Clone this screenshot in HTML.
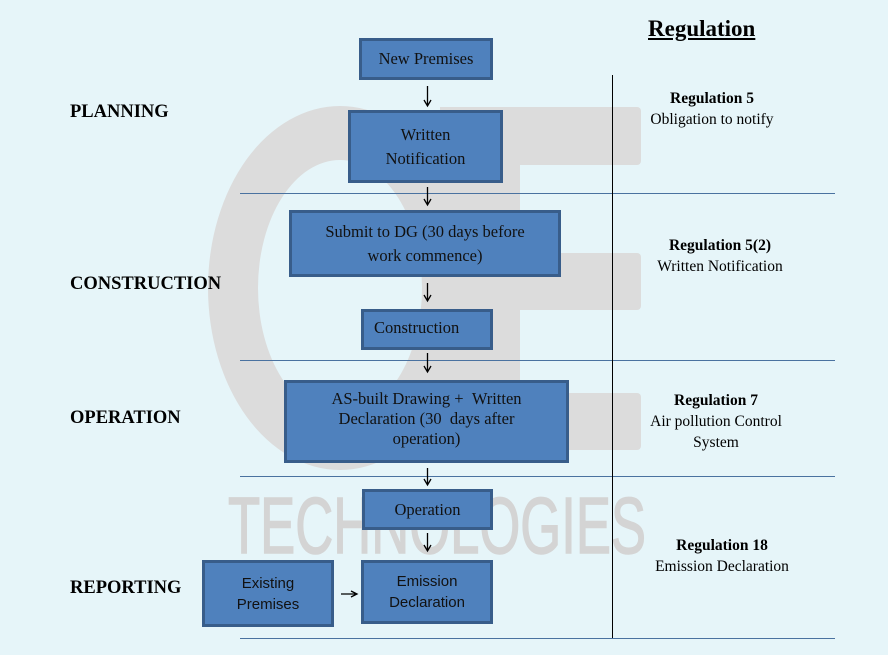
<!DOCTYPE html>
<html><head><meta charset="utf-8"><style>
body{margin:0;width:888px;height:655px;overflow:hidden;background:#e6f5f9;position:relative;font-family:"Liberation Serif",serif;}
.b{position:absolute;box-sizing:border-box;background:#4f81bd;border:3px solid #385d8a;color:#111;display:flex;align-items:center;justify-content:center;text-align:center;font-size:16.5px;line-height:24px;}
.sans{font-family:"Liberation Sans",sans-serif;font-size:15px;line-height:21px;}
.l{position:absolute;font-weight:bold;font-size:18.5px;}
.r{position:absolute;text-align:center;font-size:15.5px;line-height:21px;width:180px;}
</style></head><body>
<svg width="888" height="655" style="position:absolute;left:0;top:0">
<path fill="#dcdcdc" fill-rule="evenodd" d="M340 106 A132 182 0 1 0 340 470 A132 182 0 1 0 340 106 Z M340 160 A82 128 0 1 1 340 416 A82 128 0 1 1 340 160 Z"/>
<rect x="440" y="107" width="80" height="343" fill="#dcdcdc"/>
<rect x="440" y="107" width="201" height="58" rx="4" fill="#dcdcdc"/>
<rect x="440" y="253" width="201" height="57" rx="4" fill="#dcdcdc"/>
<rect x="440" y="393" width="201" height="57" rx="4" fill="#dcdcdc"/>
<text x="228" y="553" font-family="Liberation Sans,sans-serif" font-size="80" fill="#d4d4d4" stroke="#d4d4d4" stroke-width="1.5" textLength="418" lengthAdjust="spacingAndGlyphs">TECHNOLOGIES</text>
<g stroke="#4a72a0" stroke-width="1"><line x1="240" y1="193.5" x2="835" y2="193.5"/><line x1="240" y1="360.5" x2="835" y2="360.5"/><line x1="240" y1="476.5" x2="835" y2="476.5"/><line x1="240" y1="638.5" x2="835" y2="638.5"/></g>
<line x1="612.5" y1="75" x2="612.5" y2="638" stroke="#000"/>
<g stroke="#000" stroke-width="1.3" fill="none">
<path d="M427.5 86V105M424 100l3.5 6 3.5-6"/>
<path d="M427.5 187V205M424 199l3.5 6 3.5-6"/>
<path d="M427.5 283V301M424 295l3.5 6 3.5-6"/>
<path d="M427.5 353V372M424 366l3.5 6 3.5-6"/>
<path d="M427.5 468V485M424 479l3.5 6 3.5-6"/>
<path d="M427.5 533V551M424 545l3.5 6 3.5-6"/>
<path d="M341 594H356M351 591l6 3-6 3"/>
</g>
</svg>
<div class="b" style="left:359px;top:38px;width:134px;height:42px">New Premises</div>
<div class="b" style="left:348px;top:110px;width:155px;height:73px">Written<br>Notification</div>
<div class="b" style="left:289px;top:210px;width:272px;height:67px">Submit to DG (30 days before<br>work commence)</div>
<div class="b" style="left:361px;top:309px;width:132px;height:41px;justify-content:flex-start;padding-left:10px;padding-bottom:4px">Construction</div>
<div class="b" style="left:284px;top:380px;width:285px;height:83px;line-height:20px;padding-bottom:6px">AS-built Drawing + &nbsp;Written<br>Declaration (30 &nbsp;days after<br>operation)</div>
<div class="b" style="left:362px;top:489px;width:131px;height:41px">Operation</div>
<div class="b sans" style="left:202px;top:560px;width:132px;height:67px">Existing<br>Premises</div>
<div class="b sans" style="left:361px;top:560px;width:132px;height:64px">Emission<br>Declaration</div>
<div class="l" style="left:70px;top:102px">PLANNING</div>
<div class="l" style="left:70px;top:274px">CONSTRUCTION</div>
<div class="l" style="left:70px;top:408px">OPERATION</div>
<div class="l" style="left:70px;top:578px">REPORTING</div>
<div style="position:absolute;left:648px;top:16px;font-weight:bold;font-size:23px;text-decoration:underline">Regulation</div>
<div class="r" style="left:622px;top:88px"><b>Regulation 5</b><br>Obligation to notify</div>
<div class="r" style="left:630px;top:235px"><b>Regulation 5(2)</b><br>Written Notification</div>
<div class="r" style="left:626px;top:390px"><b>Regulation 7</b><br>Air pollution Control<br>System</div>
<div class="r" style="left:632px;top:535px"><b>Regulation 18</b><br>Emission Declaration</div>
</body></html>
